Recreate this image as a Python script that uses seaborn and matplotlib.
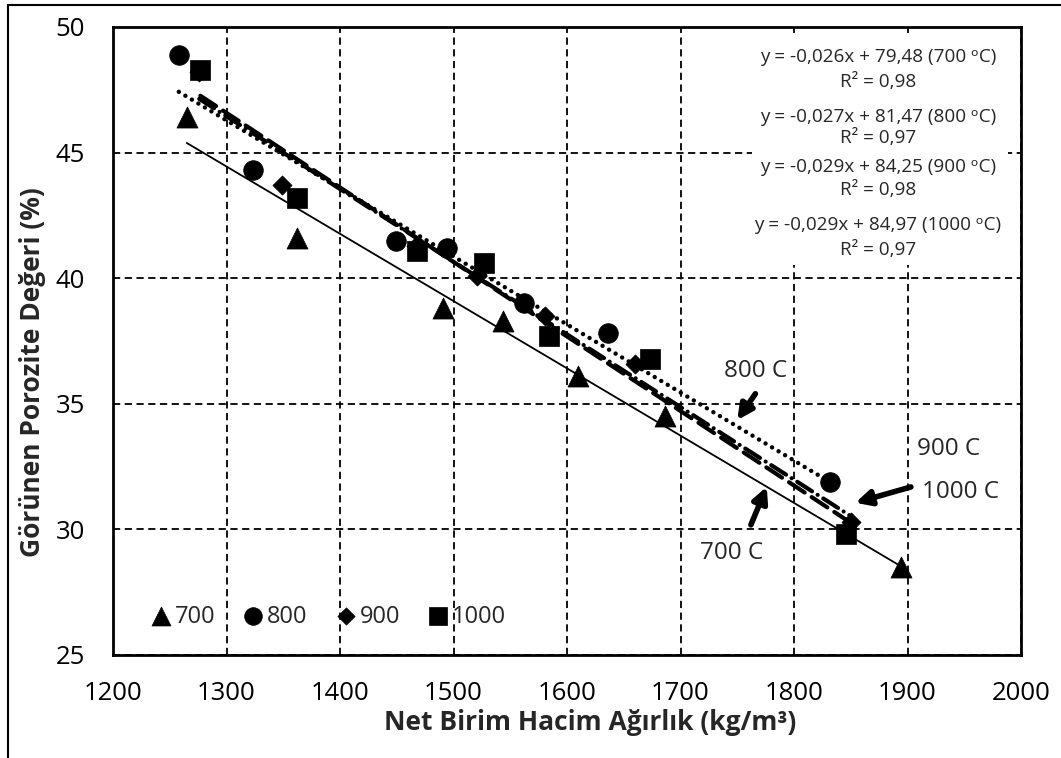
import numpy as np
import pandas as pd
import matplotlib
matplotlib.use("Agg")
import matplotlib.pyplot as plt
from matplotlib.lines import Line2D
from matplotlib.patches import Rectangle
import seaborn as sns

# ---- data ----
x700 = [1265, 1362, 1491, 1544, 1610, 1686, 1894]
y700 = [46.4, 41.6, 38.8, 38.3, 36.1, 34.5, 28.5]
x800 = [1258, 1323, 1449, 1494, 1562, 1636, 1832]
y800 = [48.9, 44.3, 41.5, 41.2, 39.0, 37.8, 31.9]
x900 = [1276, 1349, 1467, 1521, 1581, 1660, 1850]
y900 = [48.2, 43.7, 41.3, 40.1, 38.5, 36.6, 30.3]
x1000 = [1277, 1362, 1468, 1527, 1584, 1673, 1846]
y1000 = [48.3, 43.2, 41.1, 40.6, 37.7, 36.8, 29.8]
series_names = ["700", "800", "900", "1000"]
equations = [
    "y = -0,026x + 79,48 (700 \u1d52C)", "R\u00b2 = 0,98",
    "y = -0,027x + 81,47 (800 \u1d52C)", "R\u00b2 = 0,97",
    "y = -0,029x + 84,25 (900 \u1d52C)", "R\u00b2 = 0,98",
    "y = -0,029x + 84,97 (1000 \u1d52C)", "R\u00b2 = 0,97",
]
xticks = [1200, 1300, 1400, 1500, 1600, 1700, 1800, 1900, 2000]
yticks = [25, 30, 35, 40, 45, 50]

sns.set_style("white")
plt.rcParams["font.family"] = ["Open Sans", "DejaVu Sans"]

fig = plt.figure(figsize=(10.61, 7.58), dpi=100)
ax = fig.add_axes([113 / 1061, 1 - 655 / 758, (1021 - 113) / 1061, (655 - 27) / 758])

xs_all = [x700, x800, x900, x1000]
ys_all = [y700, y800, y900, y1000]
markers = ["^", "o", "D", "s"]
sizes = [230, 200, 95, 200]
lstyles = ["-", (0, (0.01, 1.7)), (0, (4.2, 1.6, 0.01, 1.6)), (0, (4.5, 2.0))]
lwidths = [1.3, 3.2, 3.0, 3.0]

for xs, ys, m, s, name in zip(xs_all, ys_all, markers, sizes, series_names):
    sns.scatterplot(x=xs, y=ys, marker=m, s=s, color="black", edgecolor="black",
                    linewidth=0.5, ax=ax, label=name, zorder=3)

for xs, ys, ls, lw in zip(xs_all, ys_all, lstyles, lwidths):
    sns.regplot(x=xs, y=ys, scatter=False, ci=None, truncate=True, ax=ax,
                line_kws=dict(color="black", lw=lw, ls=ls, zorder=4,
                              dash_capstyle="round"))

ax.set_xlim(1200, 2000)
ax.set_ylim(25, 50)
ax.set_xticks(xticks)
ax.set_yticks(yticks)
ax.grid(True, color="black", ls=(0, (4, 2.5)), lw=1.3)
for sp in ax.spines.values():
    sp.set_color("black")
    sp.set_linewidth(2.0)
ax.tick_params(direction="inout", length=12, width=1.5, colors="black",
               labelsize=18.5)
ax.tick_params(axis="x", pad=13)
ax.tick_params(axis="y", pad=14)
ax.set_xlabel("Net Birim Hacim Ağırlık (kg/m³)", fontsize=19, fontweight="bold")
ax.set_ylabel("Görünen Porozite Değeri (%)", fontsize=19, fontweight="bold")
ax.xaxis.set_label_coords(0.525, -0.086)
ax.yaxis.set_label_coords(-0.074, 0.45)

# legend (markers only)
h, l = ax.get_legend_handles_labels()
ax.legend(h[:4], l[:4], loc="center left", bbox_to_anchor=(0.042, 0.061), ncol=4,
          frameon=False, fontsize=17, handletextpad=0.2, columnspacing=1.2,
          handlelength=0.8, markerscale=0.9, borderpad=0, borderaxespad=0)

# white box behind the equations
ax.add_patch(Rectangle((0.704, 0.621), 0.282, 0.363, transform=ax.transAxes,
                       facecolor="white", edgecolor="none", zorder=1))
eq_y = [48.82, 47.82, 46.43, 45.58, 44.44, 43.51, 42.12, 41.12]
for txt, yy in zip(equations, eq_y):
    ax.text(1874, yy, txt, ha="center", va="center", fontsize=13.6, zorder=6)

# annotations
ax.text(1766, 36.3, "800 C", ha="center", va="center", fontsize=17.5)
ax.text(1936, 33.2, "900 C", ha="center", va="center", fontsize=17.5)
ax.text(1947, 31.5, "1000 C", ha="center", va="center", fontsize=17.5)
ax.text(1745, 29.06, "700 C", ha="center", va="center", fontsize=17.5)
arrow = dict(arrowstyle="-|>,head_length=0.9,head_width=0.45", lw=4, color="black",
             shrinkA=0, shrinkB=0)
ax.annotate("", xy=(1854, 31.06), xytext=(1903, 31.69), arrowprops=arrow)
ax.annotate("", xy=(1776, 31.7), xytext=(1762, 30.18), arrowprops=arrow)
ax.annotate("", xy=(1750, 34.35), xytext=(1766, 35.4), arrowprops=arrow)

# outer frame lines
fig.add_artist(Line2D([8 / 1061, 8 / 1061], [0, 1 - 5 / 758], color="black", lw=1.5,
                      transform=fig.transFigure))
fig.add_artist(Line2D([8 / 1061, 1], [1 - 5 / 758, 1 - 5 / 758], color="black", lw=1.5,
                      transform=fig.transFigure))

fig.savefig("out.png", dpi=100)
